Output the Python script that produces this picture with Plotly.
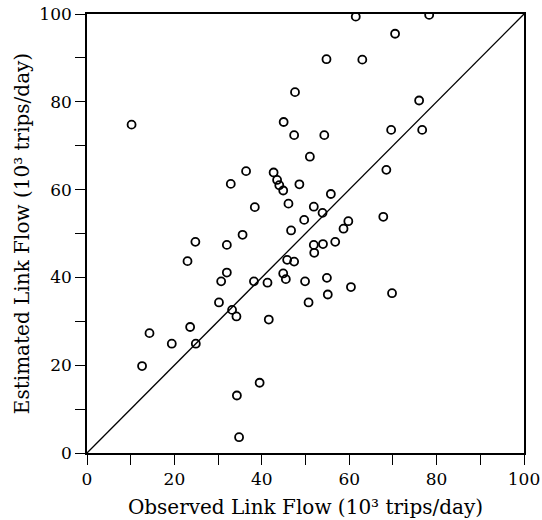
import plotly.graph_objects as go

observed = [10.2, 47.6, 45.0, 47.4, 36.4, 32.9, 42.7, 43.5, 44.0, 44.9, 48.6, 46.1, 38.4,
            46.7, 35.6, 24.8, 61.5, 78.3, 70.5, 54.8, 63.0, 76.0, 54.3, 69.6, 76.7, 51.0,
            68.5, 55.8, 51.9, 53.9, 49.7, 59.8, 58.7, 67.8, 56.8, 51.9, 54.0, 52.0, 47.4,
            49.9, 54.9, 50.7, 55.1, 60.4, 69.8, 32.0, 23.0, 45.8, 32.0, 30.7, 38.2, 41.3,
            44.9, 45.5, 30.2, 33.2, 34.2, 41.6, 14.3, 23.6, 19.4, 24.9, 12.6, 39.5, 34.3, 34.8]
estimated = [74.8, 82.2, 75.4, 72.4, 64.2, 61.3, 63.9, 62.2, 61.0, 59.8, 61.2, 56.8, 56.0,
             50.7, 49.7, 48.1, 99.4, 99.8, 95.5, 89.7, 89.6, 80.3, 72.4, 73.6, 73.6, 67.5,
             64.5, 59.0, 56.1, 54.7, 53.1, 52.8, 51.1, 53.8, 48.1, 47.4, 47.6, 45.6, 43.6,
             39.1, 39.9, 34.3, 36.1, 37.8, 36.4, 47.4, 43.7, 44.0, 41.1, 39.1, 39.1, 38.8,
             40.9, 39.6, 34.3, 32.6, 31.1, 30.4, 27.3, 28.7, 24.9, 24.9, 19.8, 16.0, 13.1, 3.6]

diag = [0, 100]
tick_vals = [0, 20, 40, 60, 80, 100]
tick_text = ["0", "20", "40", "60", "80", "100"]

FONT = "DejaVu Serif"

fig = go.Figure()
fig.add_trace(go.Scatter(x=diag, y=diag, mode="lines",
                         line=dict(color="black", width=1.3), hoverinfo="skip"))
fig.add_trace(go.Scatter(x=observed, y=estimated, mode="markers",
                         marker=dict(symbol="circle-open", size=8, color="black",
                                     line=dict(width=1.8, color="black"))))

axis_common = dict(
    range=[0, 100], tickvals=tick_vals, ticktext=tick_text,
    ticks="outside", ticklen=10, tickwidth=1.3, tickcolor="black",
    showline=True, linecolor="black", linewidth=1.6, mirror=True,
    showgrid=False, zeroline=False, automargin=False,
    minor=dict(dtick=10, tick0=0, ticks="outside", ticklen=10, tickwidth=1.3, tickcolor="black"),
    tickfont=dict(family=FONT, size=17, color="black"),
)

fig.update_layout(
    width=542, height=520,
    margin=dict(l=87, r=18, t=14, b=67),
    paper_bgcolor="white", plot_bgcolor="white",
    showlegend=False,
    xaxis=dict(**axis_common,
               title=dict(text="Observed Link Flow (10³ trips/day)",
                          font=dict(family=FONT, size=20, color="black"), standoff=12)),
    yaxis=dict(**axis_common,
               title=dict(text="Estimated Link Flow (10³ trips/day)",
                          font=dict(family=FONT, size=20, color="black"), standoff=4)),
)

fig.write_html("out.html", config={"displayModeBar": False},
               post_script="document.body.style.margin='0';")
